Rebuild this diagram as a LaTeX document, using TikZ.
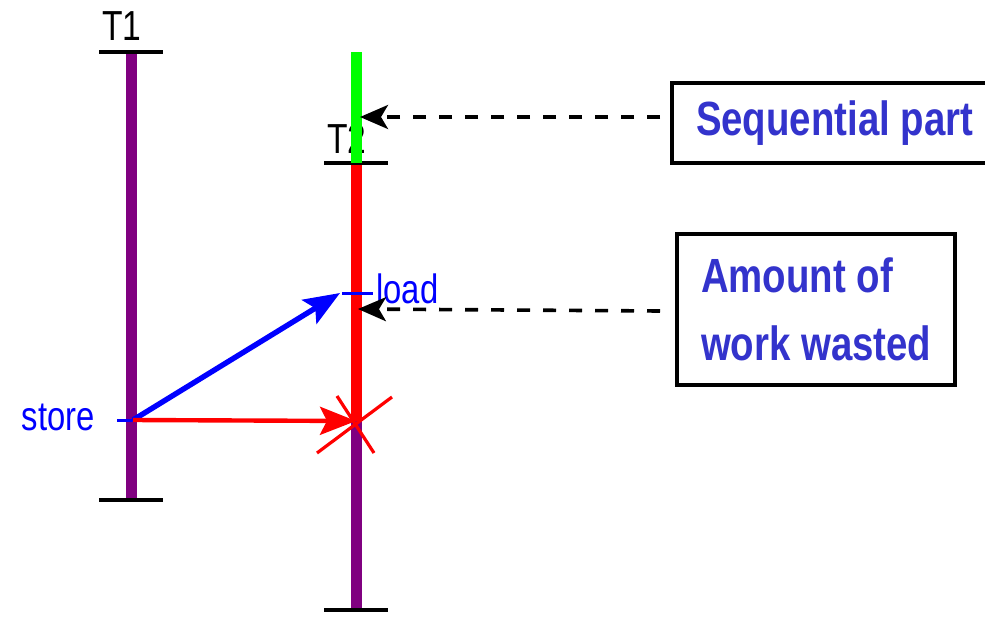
\documentclass[tikz,border=0pt]{standalone}
\usepackage{fontspec}
\newfontfamily\narrowsf[FakeStretch=0.8]{Liberation Sans}
\usetikzlibrary{arrows.meta,positioning}
\definecolor{thread}{HTML}{800080}
\definecolor{seqgreen}{HTML}{00FF00}
\definecolor{notetext}{HTML}{3333CC}

\begin{document}
\begin{tikzpicture}[x=0.5pt,y=-0.5pt,
      life/.style={line width=5.5pt,thread},
      tick/.style={line width=2pt,black},
      lbl/.style={font=\narrowsf\fontsize{21}{24}\selectfont,inner sep=0pt},
      acc/.style={font=\narrowsf\fontsize{20.5}{24}\selectfont,text=blue,inner sep=0pt},
      note/.style={draw=black,line width=2pt,align=left,inner xsep=12pt,
                   font=\narrowsf\bfseries\fontsize{24}{34}\selectfont,text=notetext},
      ptr/.style={-{Stealth[length=14pt,width=12pt,inset=3.5pt]},line width=1.8pt,dash pattern=on 6.5pt off 6.5pt},
      msg/.style={-{Stealth[length=18pt,width=14pt,inset=3.5pt]},line width=2.7pt}]
    \useasboundingbox (0,0) rectangle (985,616);

    % thread T1
    \coordinate (t1top) at (131,52);
    \coordinate (t1bot) at (131,500);
    \coordinate (storept) at (133,420);
    \draw[life] (t1top) -- (t1bot);
    \draw[tick] ([xshift=-16pt]t1top) -- ([xshift=16pt]t1top);
    \draw[tick] ([xshift=-16pt]t1bot) -- ([xshift=16pt]t1bot);
    \node[lbl,anchor=base] (lblT1) at (122,40) {T1};

    % thread T2
    \coordinate (t2seq) at (356,52);
    \coordinate (t2top) at (356,163);
    \coordinate (crash) at (356,421);
    \coordinate (t2bot) at (356,610);
    \coordinate (loadpt) at (340,293);
    \draw[life,red] (t2top) -- (crash);
    \draw[life] (crash) -- (t2bot);
    \draw[tick] ([xshift=-16pt]t2top) -- ([xshift=16pt]t2top);
    \draw[tick] ([xshift=-16pt]t2bot) -- ([xshift=16pt]t2bot);
    \node[lbl,anchor=base] (lblT2) at (347,153) {T2};
    \draw[life,seqgreen] (t2seq) -- (t2top);

    % accesses
    \draw[blue,line width=1.5pt] (117,420) -- (storept);
    \node[acc,anchor=base east] (lblStore) at (95,430) {store};
    \draw[blue,line width=1.5pt] (342,293) -- (373,293);
    \node[acc,anchor=base west] (lblLoad) at (376,303) {load};
    \draw[msg,blue] (storept) -- (loadpt);
    \draw[msg,red,line width=2.2pt] (storept) -- (crash);
    \draw[red,line width=1.6pt] ([shift={(-39,32)}]crash) -- ([shift={(36,-24)}]crash);
    \draw[red,line width=1.6pt] ([shift={(-19,-25)}]crash) -- ([shift={(18,32)}]crash);

    % notes
    \node[note,anchor=west,minimum height=40pt] (seqbox) at (670,123) {Sequential part};
    \node[note,anchor=north west,minimum height=75.5pt] (wastebox) at (675,232) {Amount of\\work wasted};
    \coordinate (seqtip) at (360,117);
    \coordinate (wastetip) at (358,309);
    \draw[ptr] ([xshift=-5pt,yshift=3pt]seqbox.west) -- (seqtip);
    \draw[ptr] ([xshift=-7.5pt,yshift=-0.75pt]wastebox.west) -- (wastetip);
  \end{tikzpicture}
\end{document}
